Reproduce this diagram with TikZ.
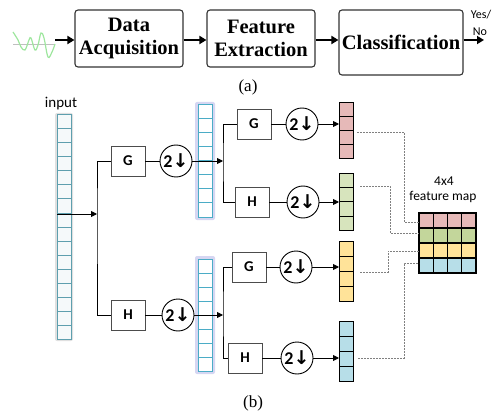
\documentclass[tikz,border=0pt]{standalone}
\usepackage{fontspec}
\setmainfont{Liberation Serif}
\newfontfamily\calfont{Carlito}
\newfontfamily\dvfont{DejaVu Sans}
\usetikzlibrary{arrows.meta}
\definecolor{pinkc}{HTML}{E6B9B8}
\definecolor{greenc}{HTML}{D7E4BD}
\definecolor{greenm}{HTML}{C3D69B}
\definecolor{yellowc}{HTML}{FFE399}
\definecolor{bluec}{HTML}{B7DEE8}
\definecolor{tealc}{HTML}{5E9FAE}
\definecolor{colblue}{HTML}{4BACC6}
\definecolor{glowc}{HTML}{D6D6F2}
\definecolor{wavec}{HTML}{9EE69E}
\newcommand\mycol[6]{%
  \foreach \i in {1,...,#3}{%
    \draw[fill=#5, draw=#6, line width=1pt] (#1,{#2+(\i-1)*#4}) rectangle ++(14,#4);
  }%
}
\begin{document}
\begin{tikzpicture}[x=1pt,y=-1pt,
  topbox/.style={draw=black!80, line width=1.1pt, rounded corners=3pt, align=center,
     font=\fontsize{20.5}{23}\selectfont\bfseries, inner sep=0pt},
  bigarrow/.style={line width=2.6pt, -{Triangle[length=7pt,width=8pt]}},
  fbox/.style={draw=black!70, line width=0.9pt, minimum width=34pt, minimum height=30pt,
     inner sep=0pt, font=\calfont\bfseries\fontsize{15}{15}\selectfont},
  dcirc/.style={draw, circle, line width=0.9pt, minimum size=32pt, inner sep=0pt},
  conn/.style={line width=0.9pt},
  carrow/.style={line width=0.9pt, -{Triangle[length=6pt,width=6pt]}},
  dotl/.style={draw=black!50, line width=0.9pt, dash pattern=on 1.6pt off 1.4pt},
  lbl/.style={font=\calfont\fontsize{13.5}{15}\selectfont, inner sep=0pt},
  captxt/.style={font=\fontsize{17}{17}\selectfont, inner sep=0pt}
]
\useasboundingbox (0,0) rectangle (495,414);

% ---------------- (a) ----------------
\draw[black!25, line width=0.5pt] (13,44) -- (55,44);
\draw[wavec, line width=1.2pt] plot[smooth, tension=0.6] coordinates
  {(13,32) (18,40) (21,47) (25,50) (29,40) (31,38) (35,50) (38,45) (41,33) (44,38) (48,57) (52,52) (55,44)};
\coordinate (w) at (55,40);
\node[topbox, minimum width=108pt, minimum height=57pt] (da) at (129,38.5) {Data\\Acquisition};
\node[topbox, minimum width=108pt, minimum height=57pt] (fe) at (261,38.5) {Feature\\Extraction};
\node[topbox, minimum width=124pt, minimum height=65pt] (cl) at (401,42.5) {Classification};
\coordinate (out) at (484,40);
\draw[bigarrow] (w) -- (w -| da.west);
\draw[bigarrow] (w -| da.east) -- (w -| fe.west);
\draw[bigarrow] (w -| fe.east) -- (w -| cl.west);
\draw[bigarrow] (w -| cl.east) -- (out);
\node[font=\calfont\fontsize{12}{12}\selectfont, inner sep=0pt] (yes) at (481,15) {Yes/};
\node[font=\calfont\fontsize{12}{12}\selectfont, inner sep=0pt] (no) at (480,32) {No};
\node[captxt] (capa) at (248,87) {(a)};

% ---------------- (b) ----------------
\node[font=\calfont\fontsize{15}{15}\selectfont, inner sep=0pt] (inlbl) at (61,104) {input};
% input column
\fill[black!12, rounded corners=2pt] (55,113) rectangle (73,341);
\mycol{57}{115}{16}{14}{tealc!6}{tealc}
% middle columns
\fill[glowc, rounded corners=2pt] (195,102) rectangle (215,220);
\mycol{198}{105}{8}{14}{white}{colblue}
\fill[glowc, rounded corners=2pt] (195,256) rectangle (215,374);
\mycol{198}{259}{8}{14}{white}{colblue}
% output columns
\mycol{339}{103}{4}{14}{pinkc}{black}
\mycol{339}{174}{4}{14}{greenc}{black}
\mycol{339}{241}{4}{15}{yellowc}{black}
\mycol{339}{321}{4}{15}{bluec}{black}

% filter boxes & downsamplers
\newcommand\dtext{{\calfont\bfseries\fontsize{18}{18}\selectfont 2}{\dvfont\bfseries\fontsize{19}{19}\selectfont ↓}}
\node[fbox] (G1) at (128,161) {G};
\node[dcirc] (D1) at (176,161) {\dtext};
\node[fbox] (H1) at (128,315) {H};
\node[dcirc] (D2) at (178,315) {\dtext};
\node[fbox] (G2) at (254,124) {G};
\node[dcirc] (D3) at (302,124) {\dtext};
\node[fbox] (H2) at (252,202) {H};
\node[dcirc] (D4) at (303,202) {\dtext};
\node[fbox] (G3) at (249,267) {G};
\node[dcirc] (D5) at (296,267) {\dtext};
\node[fbox] (H3) at (245,358) {H};
\node[dcirc] (D6) at (297,358) {\dtext};

\coordinate (inL) at (57,214);
\coordinate (sp1) at (97,214);
\coordinate (sp2) at (223,161);
\coordinate (sp3) at (223,315);
\coordinate (pkL) at (339,124);
\coordinate (gnL) at (339,202);
\coordinate (ylL) at (339,267);
\coordinate (blL) at (339,358);

\draw[carrow] (inL) -- (sp1);
\draw[conn] (G1.west) -| (sp1) |- (H1.west);
\draw[conn] (G1) -- (D1);
\draw[conn] (H1) -- (D2);
\draw[carrow] (D1) -- (sp2);
\draw[carrow] (D2) -- (sp3);
\draw[conn] (G2.west) -| (sp2) |- (H2.west);
\draw[conn] (G3.west) -| (sp3) |- (H3.west);
\draw[conn] (G2) -- (D3);
\draw[conn] (H2) -- (D4);
\draw[conn] (G3) -- (D5);
\draw[conn] (H3) -- (D6);
\draw[carrow] (D3) -- (pkL);
\draw[carrow] (D4) -- (gnL);
\draw[carrow] (D5) -- (ylL);
\draw[carrow] (D6) -- (blL);

% feature map
\node[lbl] (l44) at (444,181) {4x4};
\node[lbl] (lfm) at (443,197) {feature map};
\foreach \c [count=\r from 0] in {pinkc,greenm,yellowc,bluec}{
  \foreach \k in {0,...,3}{
    \draw[fill=\c, draw=black, line width=1.1pt] ({419+\k*14.25},{213+\r*15}) rectangle ++(14.25,15);
  }
}
\coordinate (m1) at (419,222);
\coordinate (m2) at (419,233);
\coordinate (m3) at (419,251);
\coordinate (m4) at (419,263);
\draw[dotl] (357,132) -| (404,222) -- (m1);
\draw[dotl] (360,186) -| (390,233) -- (m2);
\draw[dotl] (360,272) -| (388,251) -- (m3);
\draw[dotl] (358,358) -| (404,263) -- (m4);

\node[captxt] (capb) at (253,403) {(b)};
\end{tikzpicture}
\end{document}
